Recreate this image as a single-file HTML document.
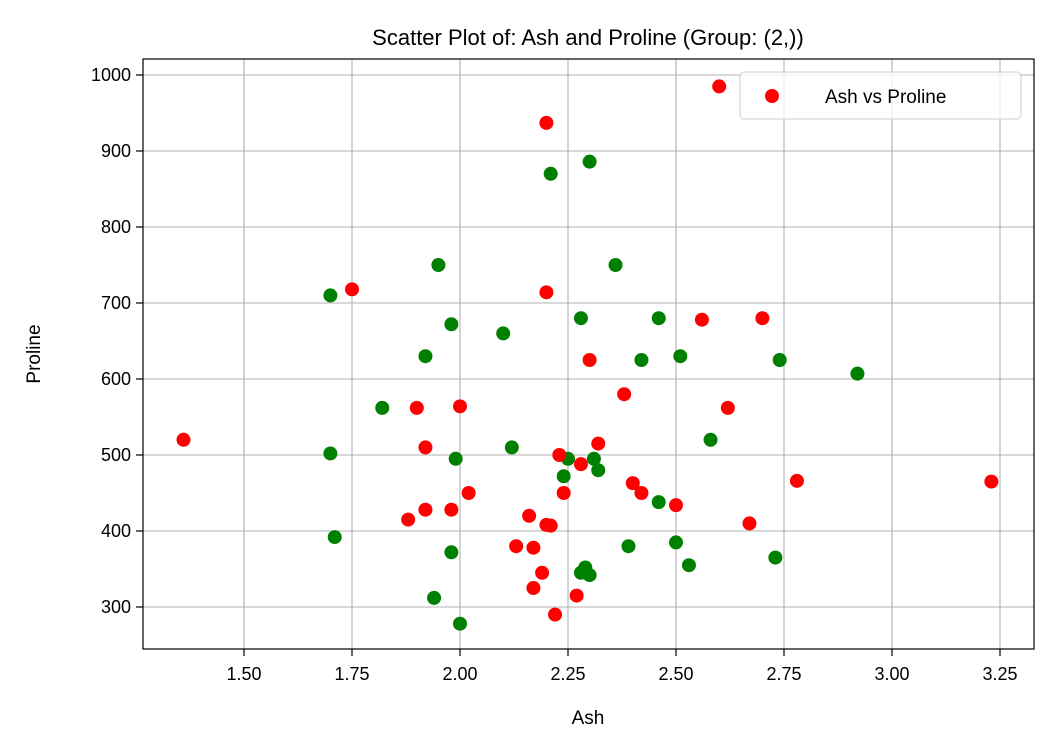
<!DOCTYPE html>
<html><head><meta charset="utf-8"><style>
body{margin:0;background:#fff;font-family:"Liberation Sans","DejaVu Sans",sans-serif;}
</style></head><body>
<svg id="chart" width="1054" height="751" xmlns="http://www.w3.org/2000/svg" font-family="Liberation Sans, DejaVu Sans, sans-serif">
<rect width="1054" height="751" fill="#fff"/>
<g id="grid"></g>
<g id="pts"></g>
<rect x="143" y="59" width="891" height="590" fill="none" stroke="#000" stroke-width="1.2"/>
<g id="ticks"></g>
<text x="588" y="45" text-anchor="middle" font-size="22">Scatter Plot of: Ash and Proline (Group: (2,))</text>
<text x="588" y="724" text-anchor="middle" font-size="19">Ash</text>
<text x="40" y="354" text-anchor="middle" font-size="19" transform="rotate(-90 40 354)">Proline</text>
<g>
<rect x="740" y="72" width="281" height="47" rx="4" fill="#fff" fill-opacity="0.8" stroke="#ccc"/>
<circle cx="772" cy="96" r="7" fill="red"/>
<text x="825" y="103" font-size="19">Ash vs Proline</text>
</g>
</svg>
<script>
const xTicks=[1.5,1.75,2.0,2.25,2.5,2.75,3.0,3.25];
const yTicks=[300,400,500,600,700,800,900,1000];
const redAsh=[1.36,1.75,1.90,1.92,1.88,1.92,1.98,2.00,2.02,2.20,2.20,2.16,2.13,2.17,2.19,2.17,2.20,2.21,2.22,2.23,2.24,2.27,2.28,2.30,2.32,2.38,2.40,2.42,2.50,2.56,2.60,2.62,2.67,2.70,2.78,3.23];
const redProline=[520,718,562,510,415,428,428,564,450,937,714,420,380,378,345,325,408,407,290,500,450,315,488,625,515,580,463,450,434,678,985,562,410,680,466,465];
const greenAsh=[1.70,1.70,1.71,1.82,1.92,1.95,1.98,1.99,1.98,1.94,2.00,2.10,2.12,2.21,2.30,2.25,2.24,2.28,2.28,2.29,2.30,2.31,2.32,2.36,2.39,2.42,2.46,2.46,2.50,2.51,2.53,2.58,2.73,2.74,2.92];
const greenProline=[710,502,392,562,630,750,672,495,372,312,278,660,510,870,886,495,472,680,345,352,342,495,480,750,380,625,680,438,385,630,355,520,365,625,607];
const NS="http://www.w3.org/2000/svg";
const X=v=>244+(v-1.5)*432;
const Y=v=>607-(v-300)*0.76;
const grid=document.getElementById('grid'),ticks=document.getElementById('ticks'),pts=document.getElementById('pts');
function mk(tag,attrs,parent){const e=document.createElementNS(NS,tag);for(const k in attrs)e.setAttribute(k,attrs[k]);parent.appendChild(e);return e;}
xTicks.forEach(t=>{
const x=X(t);
const g=mk('line',{x1:x,x2:x,y1:59,y2:649,stroke:'#b0b0b0','stroke-width':1.1},grid);


const tk=mk('line',{x1:x,x2:x,y1:649,y2:656,stroke:'#000','stroke-width':1.2},ticks);


const tx=mk('text',{x:x,y:680,'text-anchor':'middle','font-size':18},ticks);
tx.textContent=t.toFixed(2);


});
yTicks.forEach(t=>{
const y=Y(t);
const g=mk('line',{x1:143,x2:1034,y1:y,y2:y,stroke:'#b0b0b0','stroke-width':1.1},grid);


const tk=mk('line',{x1:136,x2:143,y1:y,y2:y,stroke:'#000','stroke-width':1.2},ticks);


const tx=mk('text',{x:131,y:y+6,'text-anchor':'end','font-size':18},ticks);
tx.textContent=t;


});
greenAsh.forEach((a,i)=>{
const c=mk('circle',{cx:X(a),cy:Y(greenProline[i]),r:7,fill:'green'},pts);


});
redAsh.forEach((a,i)=>{
const c=mk('circle',{cx:X(a),cy:Y(redProline[i]),r:7,fill:'red'},pts);


});
</script>
</body></html>
